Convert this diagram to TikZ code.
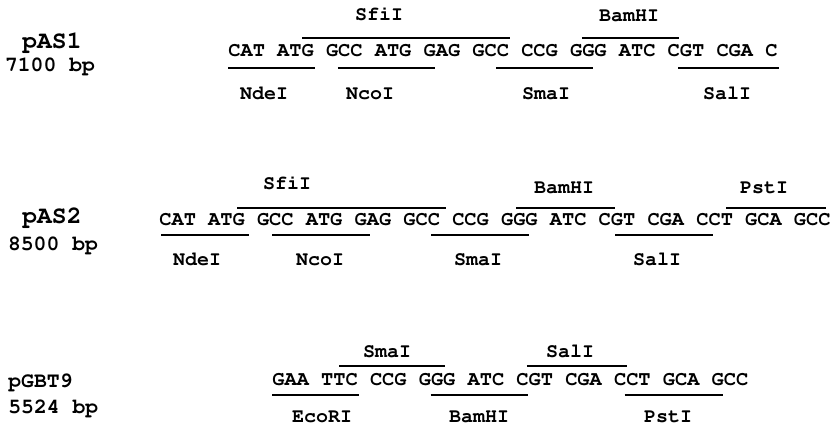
\documentclass[tikz,border=0pt]{standalone}
\usepackage[T1]{fontenc}
\usetikzlibrary{calc}
\newcommand{\cw}{12.2}
\newcommand{\courier}{\fontfamily{pcr}\fontseries{b}\selectfont}
\begin{document}
\begin{tikzpicture}[
  x=0.5pt, y=-0.5pt,
  seq/.style={inner sep=0pt, anchor=base west,
    font=\courier\fontsize{10.17}{12}\selectfont},
  enzyme/.style={inner sep=0pt, anchor=base,
    font=\courier\fontsize{10}{12}\selectfont},
  plasmid/.style={inner sep=0pt, anchor=base,
    font=\courier\fontsize{12.3}{14}\selectfont},
  bpsize/.style={inner sep=0pt, anchor=base,
    font=\courier\fontsize{10.7}{12}\selectfont},
  siteline/.style={line width=1.1pt, draw=black}
]
\useasboundingbox (0,0) rectangle (831,429);

% pAS1
\node[plasmid] (pas1) at (52,48) {pAS1};
\node[bpsize] (bp1) at (50,71) {7100 bp};
\node[seq] (seq1) at (228,56) {CAT ATG GCC ATG GAG GCC CCG GGG ATC CGT CGA C};
\coordinate (o1) at (seq1.base west);
\draw[siteline] ($(o1)+(6.1*\cw,-18)$) -- ($(o1)+(23.1*\cw,-18)$);
\draw[siteline] ($(o1)+(29*\cw,-18)$) -- ($(o1)+(37*\cw,-18)$);
\draw[siteline] ($(o1)+(0*\cw,12)$) -- ($(o1)+(7.1*\cw,12)$);
\draw[siteline] ($(o1)+(9*\cw,12)$) -- ($(o1)+(17*\cw,12)$);
\draw[siteline] ($(o1)+(22*\cw,12)$) -- ($(o1)+(29.9*\cw,12)$);
\draw[siteline] ($(o1)+(36.9*\cw,12)$) -- ($(o1)+(45.2*\cw,12)$);
\node[enzyme] (sfi1) at ($(o1)+(151,-36)$) {SfiI};
\node[enzyme] (bam1) at ($(o1)+(401,-35)$) {BamHI};
\node[enzyme] (nde1) at ($(o1)+(36,43)$) {NdeI};
\node[enzyme] (nco1) at ($(o1)+(142,43)$) {NcoI};
\node[enzyme] (sma1) at ($(o1)+(318,43)$) {SmaI};
\node[enzyme] (sal1) at ($(o1)+(499,43)$) {SalI};

% pAS2
\node[plasmid] (pas2) at (52,223) {pAS2};
\node[bpsize] (bp2) at (53,250) {8500 bp};
\node[seq] (seq2) at (159,225) {CAT ATG GCC ATG GAG GCC CCG GGG ATC CGT CGA CCT GCA GCC};
\coordinate (o2) at (seq2.base west);
\draw[siteline] ($(o2)+(6.4*\cw,-17)$) -- ($(o2)+(23.5*\cw,-17)$);
\draw[siteline] ($(o2)+(29.3*\cw,-17)$) -- ($(o2)+(37.4*\cw,-17)$);
\draw[siteline] ($(o2)+(46.5*\cw,-17)$) -- ($(o2)+(54.7*\cw,-17)$);
\draw[siteline] ($(o2)+(0.2*\cw,10)$) -- ($(o2)+(7.4*\cw,10)$);
\draw[siteline] ($(o2)+(9.3*\cw,10)$) -- ($(o2)+(17.3*\cw,10)$);
\draw[siteline] ($(o2)+(22.3*\cw,10)$) -- ($(o2)+(30.3*\cw,10)$);
\draw[siteline] ($(o2)+(37.4*\cw,10)$) -- ($(o2)+(45.4*\cw,10)$);
\node[enzyme] (sfi2) at ($(o2)+(128,-36)$) {SfiI};
\node[enzyme] (bam2) at ($(o2)+(405,-32)$) {BamHI};
\node[enzyme] (pst2) at ($(o2)+(605,-32)$) {PstI};
\node[enzyme] (nde2) at ($(o2)+(38,40)$) {NdeI};
\node[enzyme] (nco2) at ($(o2)+(161,40)$) {NcoI};
\node[enzyme] (sma2) at ($(o2)+(319,40)$) {SmaI};
\node[enzyme] (sal2) at ($(o2)+(498,40)$) {SalI};

% pGBT9
\node[bpsize, anchor=base west] (pgbt) at (8,387) {pGBT9};
\node[bpsize, anchor=base west] (bp3) at (8,413) {5524 bp};
\node[seq] (seq3) at (272,385) {GAA TTC CCG GGG ATC CGT CGA CCT GCA GCC};
\coordinate (o3) at (seq3.base west);
\draw[siteline] ($(o3)+(5.5*\cw,-19)$) -- ($(o3)+(14.2*\cw,-19)$);
\draw[siteline] ($(o3)+(20.9*\cw,-19)$) -- ($(o3)+(29.1*\cw,-19)$);
\draw[siteline] ($(o3)+(0*\cw,10)$) -- ($(o3)+(7.1*\cw,10)$);
\draw[siteline] ($(o3)+(13*\cw,10)$) -- ($(o3)+(21*\cw,10)$);
\draw[siteline] ($(o3)+(28.9*\cw,10)$) -- ($(o3)+(37*\cw,10)$);
\node[enzyme] (sma3) at ($(o3)+(115,-28)$) {SmaI};
\node[enzyme] (sal3) at ($(o3)+(298,-28)$) {SalI};
\node[enzyme] (eco3) at ($(o3)+(50,37)$) {EcoRI};
\node[enzyme] (bam3) at ($(o3)+(207,37)$) {BamHI};
\node[enzyme] (pst3) at ($(o3)+(396,37)$) {PstI};
\end{tikzpicture}
\end{document}
